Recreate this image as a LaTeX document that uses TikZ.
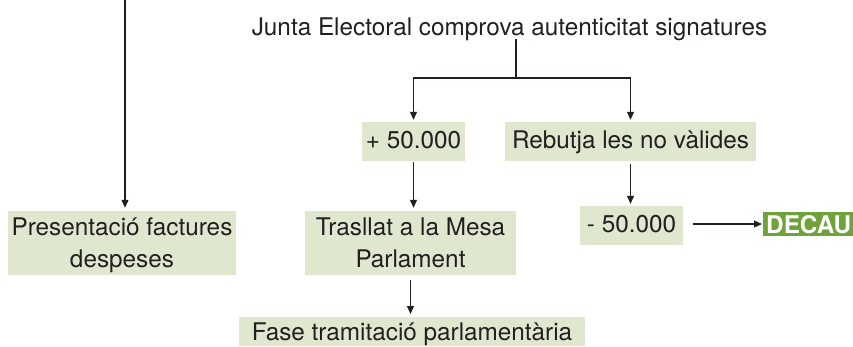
\documentclass[tikz,border=0pt]{standalone}
\usepackage{fontspec}
\setmainfont{TeX Gyre Heros}
\usepackage{tikz}
\usetikzlibrary{arrows.meta,positioning,calc}
\usepackage{xcolor}
\definecolor{boxfill}{HTML}{DFE8CF}
\definecolor{decaufill}{HTML}{6FA23A}
\definecolor{ink}{HTML}{231F20}
\tikzset{
  stage/.style={fill=boxfill,inner sep=0pt,align=center,text=ink,
    font=\fontsize{24.3}{32}\selectfont},
  single/.style={stage,minimum height=39pt,text height=19pt,text depth=5pt},
  double/.style={stage,minimum height=64pt,text depth=0pt},
  stop/.style={fill=decaufill,text=white,inner xsep=3pt,inner ysep=0pt,
    text height=21pt,text depth=3pt,font=\fontsize{24.3}{29}\selectfont\bfseries},
  arrow/.style={-{Triangle[length=8pt,width=7pt]},draw=ink,line width=1.1pt},
  link/.style={draw=ink,line width=1.1pt}
}
\begin{document}
\begin{tikzpicture}[x=1pt,y=-1pt]
  \path[clip] (0,0) rectangle (853,346);
  \node[text=ink,inner sep=0pt,text height=18pt,text depth=4pt,anchor=base,
    font=\fontsize{24.3}{29}\selectfont] (junta) at (509.5,35) {Junta Electoral comprova autenticitat signatures};
  \node[double,minimum width=228pt] (factures) at (122,243) {Presentació factures\\despeses};
  \node[single,minimum width=103pt] (mes) at (413.5,141.5) {+ 50.000};
  \node[single,minimum width=251pt] (rebuig) at (630.5,141.5) {Rebutja les no vàlides};
  \node[double,minimum width=211pt] (trasllat) at (410.5,243) {Trasllat a la Mesa\\Parlament};
  \node[single,minimum width=103pt] (menys) at (631.5,225.5) {- 50.000};
  \node[stop,anchor=west] (decau) at (763,224) {DECAU};
  \node[single,minimum width=346pt,minimum height=29pt,text height=21pt,text depth=3pt,
    anchor=north] (fase) at (412,317) {Fase tramitació parlamentària};
  \coordinate (entrada) at (125,-2);
  \coordinate (fork) at (516,78);
  \draw[arrow,shorten >=3pt] (entrada) -- (entrada |- factures.north);
  \draw[link] (junta.south -| fork) -- (fork);
  \draw[arrow,shorten >=2pt] (fork) -| (mes.north);
  \draw[arrow,shorten >=2pt] (fork) -| (rebuig.north);
  \draw[arrow,shorten <=1pt,shorten >=3pt] (mes.south) -- (mes.south |- trasllat.north);
  \draw[arrow,shorten <=3pt,shorten >=2pt] (rebuig.south) -- (rebuig.south |- menys.north);
  \draw[arrow,shorten <=10pt,shorten >=1pt] (menys.east |- decau.west) -- (decau.west);
  \draw[arrow,shorten <=5pt,shorten >=3pt] (trasllat.south) -- (trasllat.south |- fase.north);
\end{tikzpicture}
\end{document}
